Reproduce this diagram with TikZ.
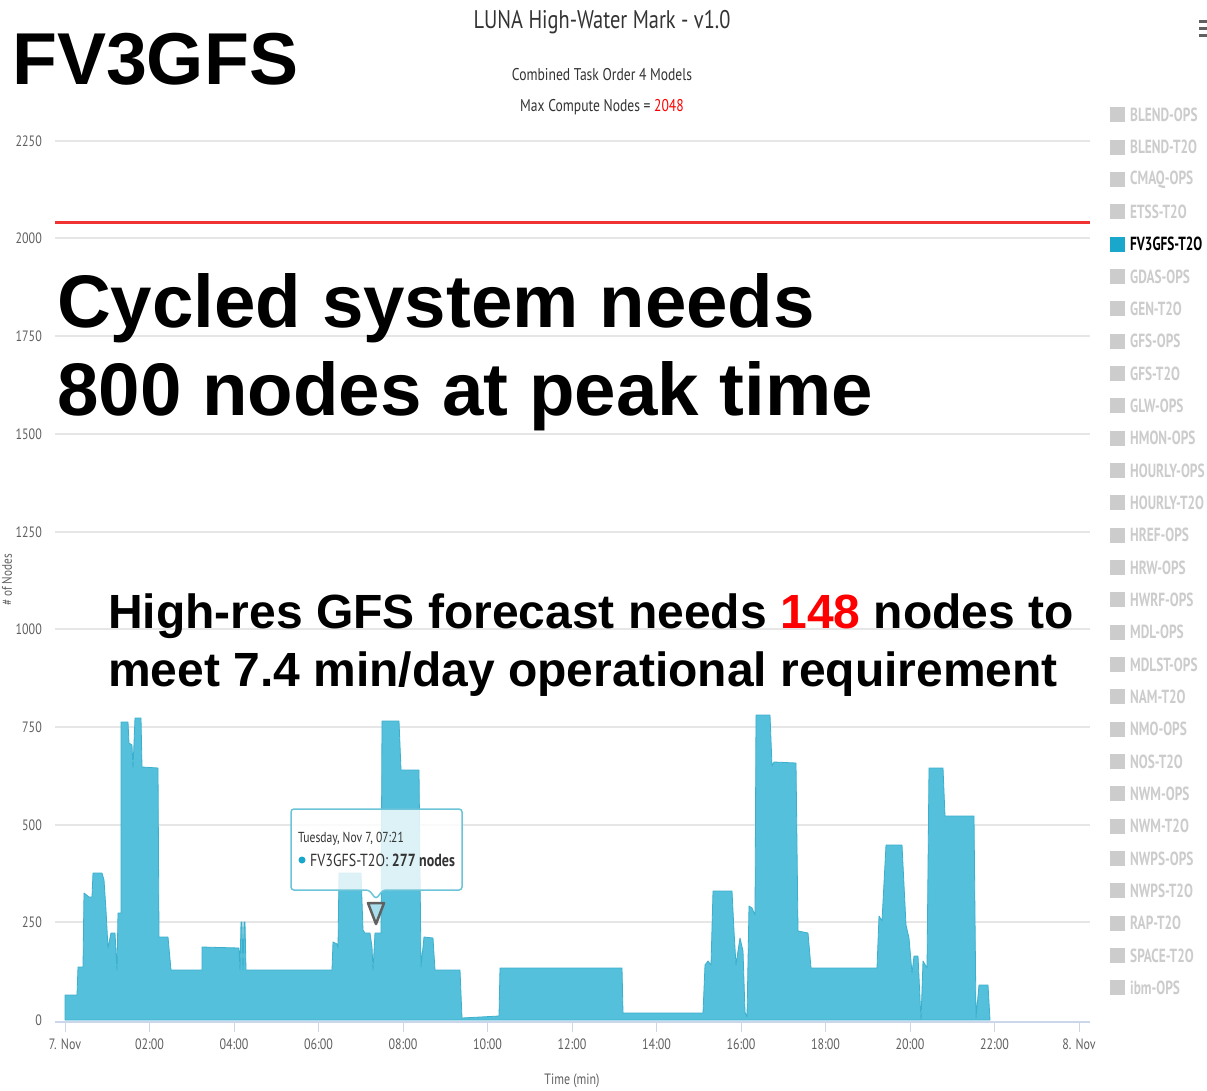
\documentclass[tikz,border=0pt]{standalone}
\usepackage{fontspec}
\setmainfont{Liberation Sans}
\newfontfamily\cfont[FakeStretch=0.8]{PT Sans}
\newfontfamily\lfont[FakeStretch=0.7]{PT Sans}
\definecolor{areac}{RGB}{84,192,219}
\definecolor{areaedge}{RGB}{60,175,205}
\definecolor{gridc}{RGB}{230,230,230}
\definecolor{axisc}{RGB}{204,214,235}
\definecolor{lblc}{RGB}{96,96,96}
\definecolor{titlec}{RGB}{51,51,51}
\definecolor{legoff}{RGB}{204,204,204}
\definecolor{legon}{RGB}{26,167,204}
\definecolor{redline}{RGB}{240,50,50}
\definecolor{tipborder}{RGB}{108,196,216}
\tikzset{
  gridline/.style={draw=gridc, line width=2pt},
  ylbl/.style={font=\cfont\fontsize{15}{15}\selectfont, text=lblc, anchor=east, inner sep=0pt},
  xlbl/.style={font=\cfont\fontsize{15}{15}\selectfont, text=lblc, anchor=north, inner sep=0pt},
  legtxt/.style={font=\lfont\bfseries\fontsize{19}{19}\selectfont, text=legoff, anchor=west, inner sep=0pt},
  legbox/.style={fill=legoff, minimum size=15pt, inner sep=0pt},
  bigtxt/.style={font=\bfseries\fontsize{74.5}{75}\selectfont, anchor=base west, inner sep=0pt},
  midtxt/.style={font=\bfseries\fontsize{48}{48}\selectfont, anchor=base west, inner sep=0pt},
}
\begin{document}
\begin{tikzpicture}[x=1pt,y=-1pt]
\useasboundingbox (0,0) rectangle (1207,1091);
\fill[white] (0,0) rectangle (1207,1091);
% grid
\foreach \yy in {141,238.5,336,434,532,629,727,825,922}
  \draw[gridline] (55,\yy) -- (1090,\yy);
% y labels
\foreach \v/\yy in {2250/141,2000/238.5,1750/336,1500/434,1250/532,1000/629,750/727,500/825,250/922,0/1020}
  \node[ylbl] (y\v) at (42,\yy) {\v};
% y title
\node[font=\cfont\fontsize{14}{14}\selectfont, text=lblc, rotate=90, inner sep=0pt] (ytitle) at (7,580) {\# of Nodes};
% red max line
\draw[redline, line width=3pt] (55,223) -- (1090,223);
% area
\fill[areac, draw=areaedge, line width=0.8pt, line join=round]
 (65,1020) -- (65,995) -- (77,995) -- (78,967) -- (83,967) -- (84,893) -- (89,897) -- (92,897)
 -- (93,873) -- (102,873) -- (104,880) -- (106,910) -- (108,948) -- (111,933) -- (115,933)
 -- (117,970) -- (118,913) -- (121,913) -- (121,722) -- (128,722) -- (129,743) -- (132,745)
 -- (133,768) -- (135,718) -- (141,718) -- (142,767) -- (158,768) -- (159,937) -- (168,937)
 -- (171,970) -- (202,970) -- (202,947) -- (239,948) -- (240,970) -- (241,922) -- (242,922)
 -- (243,970) -- (244,922) -- (245,922) -- (246,970) -- (332,970) -- (333,942) -- (337,944)
 -- (338,948) -- (339,873) -- (361,873) -- (363,930) -- (365,933) -- (370,933) -- (372,947)
 -- (373,970) -- (375,933) -- (381,933) -- (382,721) -- (399,721) -- (401,770) -- (419,770)
 -- (421,967) -- (424,937) -- (433,938) -- (435,970) -- (460,970) -- (462,1018) -- (499,1016)
 -- (500,968) -- (622,968) -- (623,1013) -- (703,1013) -- (705,965) -- (708,961) -- (711,965)
 -- (713,891) -- (732,891) -- (734,931) -- (736,965) -- (738,951) -- (740,938) -- (743,951)
 -- (745,1012) -- (747,1017) -- (749,906) -- (752,908) -- (755,915) -- (756,715) -- (770,715)
 -- (772,766) -- (774,762) -- (796,763) -- (798,931) -- (808,933) -- (811,968) -- (877,968)
 -- (879,916) -- (882,921) -- (886,845) -- (902,845) -- (906,925) -- (909,938) -- (912,973)
 -- (914,956) -- (918,956) -- (921,1020) -- (923,961) -- (927,968) -- (929,768) -- (943,768)
 -- (945,816) -- (974,816) -- (976,1018) -- (979,985) -- (988,985) -- (990,1020) -- cycle;
% x axis
\draw[axisc, line width=1.2pt] (55,1022) -- (1090,1022);
\foreach \lab [count=\i from 0] in {7. Nov,02:00,04:00,06:00,08:00,10:00,12:00,14:00,16:00,18:00,20:00,22:00,8. Nov}{
  \pgfmathsetmacro{\xx}{65+84.5*\i}
  \draw[axisc, line width=1pt] (\xx,1022) -- (\xx,1032);
  \node[xlbl] (x\i) at (\xx,1039) {\lab};
}
\node[xlbl] (xtitle) at (572,1074) {Time (min)};
% titles
\node[font=\cfont\fontsize{25.5}{26}\selectfont, text=titlec, inner sep=0pt] (title) at (602,22) {LUNA High-Water Mark - v1.0};
\node[font=\cfont\fontsize{17}{17}\selectfont, text=titlec, inner sep=0pt] (sub1) at (602,75) {Combined Task Order 4 Models};
\node[font=\cfont\fontsize{17}{17}\selectfont, text=titlec, inner sep=0pt] (sub2) at (602,107) {Max Compute Nodes = \textcolor{red}{2048}};
% menu icon
\foreach \yy [count=\i] in {22,29,36}
  \draw[lblc, line width=3pt] (1199,\yy) -- (1212,\yy);
% legend
\foreach \n [count=\i from 0] in {BLEND-OPS,BLEND-T2O,CMAQ-OPS,ETSS-T2O,FV3GFS-T2O,GDAS-OPS,GEN-T2O,GFS-OPS,GFS-T2O,GLW-OPS,HMON-OPS,HOURLY-OPS,HOURLY-T2O,HREF-OPS,HRW-OPS,HWRF-OPS,MDL-OPS,MDLST-OPS,NAM-T2O,NMO-OPS,NOS-T2O,NWM-OPS,NWM-T2O,NWPS-OPS,NWPS-T2O,RAP-T2O,SPACE-T2O,ibm-OPS}{
  \pgfmathsetmacro{\yy}{115+32.33*\i}
  \ifnum\i=4
    \node[legbox, fill=legon] (lb\i) at (1117.5,\yy) {};
    \node[legtxt, text=black] (lt\i) at (1130,\yy) {\n};
  \else
    \node[legbox] (lb\i) at (1117.5,\yy) {};
    \node[legtxt] (lt\i) at (1130,\yy) {\n};
  \fi
}
% marker
\draw[fill=areac!50, draw=lblc, line width=2.5pt, line join=round] (368,903) -- (384,903) -- (376,924) -- cycle;
% tooltip
\path[fill=white, fill opacity=0.8, draw=tipborder, line width=1.5pt, rounded corners=3pt]
  (291,809) -- (462,809) -- (462,890) -- (383,890) -- (376,899) -- (369,890) -- (291,890) -- cycle;
\node[font=\cfont\fontsize{14.5}{14}\selectfont, text=titlec, anchor=base west, inner sep=0pt] (tip1) at (298,842) {Tuesday, Nov 7, 07:21};
\fill[legon] (302,860) circle (3.5pt);
\node[font=\cfont\fontsize{17.5}{17}\selectfont, text=titlec, anchor=base west, inner sep=0pt] (tip2) at (310,866) {FV3GFS-T2O: \textbf{277 nodes}};
% big texts
\node[bigtxt, font=\bfseries\fontsize{73.5}{74}\selectfont] (fv) at (12,85) {FV3GFS};
\node[bigtxt] (c1) at (57,327) {Cycled system needs};
\node[bigtxt] (c2) at (57,415) {800 nodes at peak time};
\node[midtxt] (h1) at (108,628) {High-res GFS forecast needs \textcolor{red}{148} nodes to};
\node[midtxt] (h2) at (108,686) {meet 7.4 min/day operational requirement};
\end{tikzpicture}
\end{document}
